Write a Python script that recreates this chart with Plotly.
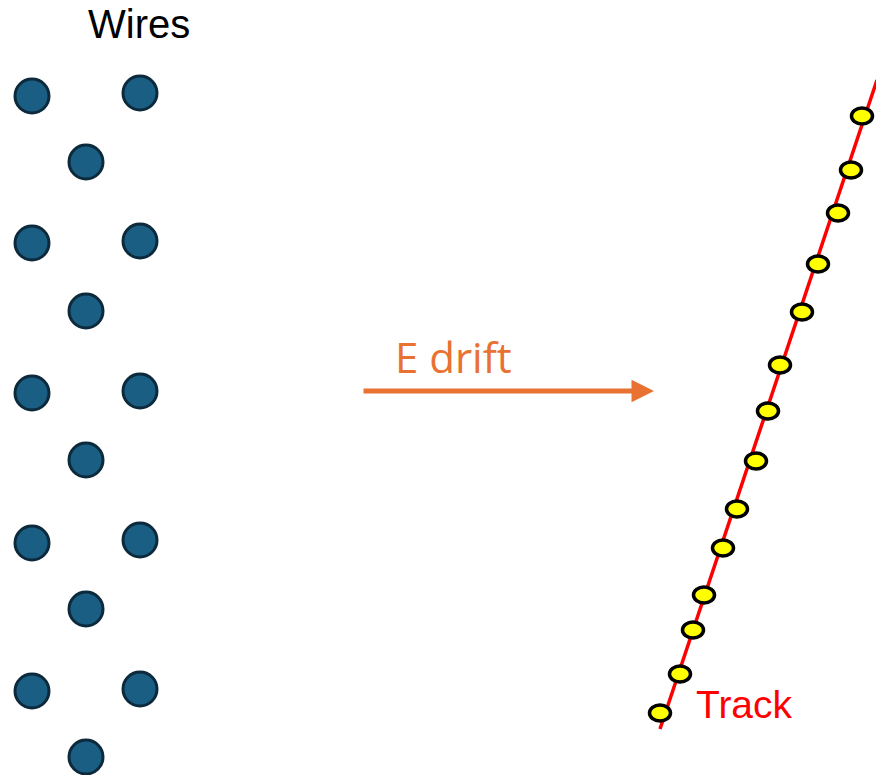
import plotly.graph_objects as go

# Wire positions (pixel coordinates)
wire_x = [32, 140, 86, 32, 140, 86, 32, 140, 86, 32, 140, 86, 32, 140, 86]
wire_y = [96, 93, 162, 243, 241, 311, 393, 391, 460, 543, 540, 609, 691, 689, 757]

# Track line endpoints
track_x = [660, 877]
track_y = [729, 80]

# Hit positions along the track
hit_x = [660, 680, 693, 704, 723, 737, 756, 768, 780, 802, 818, 838, 851, 862]
hit_y = [713, 674, 630, 595, 548, 509, 461, 411, 365, 312, 264, 213, 170, 116]

# Drift arrow
arrow_x = [362, 654]
arrow_y = [391, 391]

labels = {"wires": "Wires", "drift": "E drift", "track": "Track"}

fig = go.Figure()

fig.add_trace(go.Scatter(
    x=track_x, y=track_y, mode="lines",
    line=dict(color="#FF0000", width=3.5), hoverinfo="skip"))

fig.add_trace(go.Scatter(
    x=wire_x, y=wire_y, mode="markers",
    marker=dict(size=34, color="#1A5E83", line=dict(color="#0C2A3C", width=3)),
    hoverinfo="skip"))

for hx, hy in zip(hit_x, hit_y):
    fig.add_shape(type="circle", xref="x", yref="y",
                  x0=hx - 10.5, x1=hx + 10.5, y0=hy - 8, y1=hy + 8,
                  fillcolor="#FFFF00", line=dict(color="#000000", width=3.5))

fig.add_annotation(x=arrow_x[1], y=arrow_y[1], ax=arrow_x[0], ay=arrow_y[0],
                   xref="x", yref="y", axref="x", ayref="y", text="",
                   showarrow=True, arrowhead=2, arrowsize=0.9, arrowwidth=5,
                   arrowcolor="#E97132")

fig.add_annotation(x=139, y=24, xref="x", yref="y", text=labels["wires"],
                   showarrow=False, font=dict(family="Liberation Sans", size=40, color="#000000"))
fig.add_annotation(x=453, y=356, xref="x", yref="y", text=labels["drift"],
                   showarrow=False, font=dict(family="Open Sans", size=42, color="#E97132"))
fig.add_annotation(x=744, y=704, xref="x", yref="y", text=labels["track"],
                   showarrow=False, font=dict(family="Liberation Sans", size=39, color="#FF0000"))

fig.update_layout(
    width=876, height=775, margin=dict(l=0, r=0, t=0, b=0),
    paper_bgcolor="white", plot_bgcolor="white", showlegend=False,
    xaxis=dict(range=[0, 876], visible=False, fixedrange=True),
    yaxis=dict(range=[775, 0], visible=False, fixedrange=True),
)

fig.write_html("out.html", config={"displayModeBar": False},
               post_script="document.body.style.margin='0';")
